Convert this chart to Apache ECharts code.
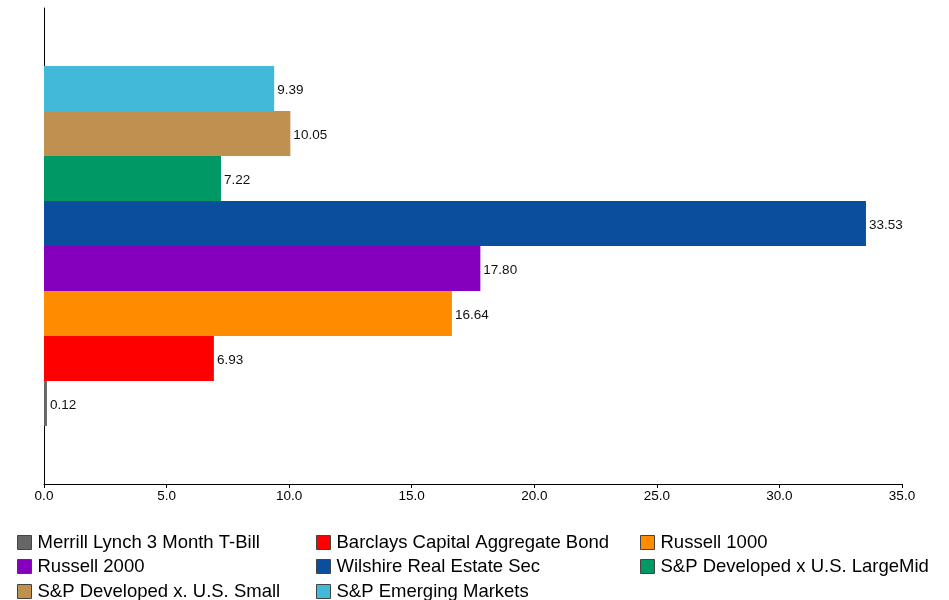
<!DOCTYPE html>
<html><head><meta charset="utf-8">
<script src="https://cdn.jsdelivr.net/npm/echarts@6/dist/echarts.min.js"></script>
<style>html,body{margin:0;padding:0;background:#fff}#c{width:949px;height:600px}</style>
</head><body><div id="c"></div>
<script>
const seriesNames = ["Merrill Lynch 3 Month T-Bill","Barclays Capital Aggregate Bond","Russell 1000","Russell 2000","Wilshire Real Estate Sec","S&P Developed x U.S. LargeMid","S&P Developed x. U.S. Small","S&P Emerging Markets"];
const seriesValues = [0.12, 6.93, 16.64, 17.80, 33.53, 7.22, 10.05, 9.39];
const seriesColors = ["#666666","#ff0000","#ff8c00","#8400bd","#0a4f9e","#009966","#c09050","#42b9d8"];
const categories = [""];
const xTicks = {min:0, max:35, interval:5};

const font = "Liberation Sans, Arial, sans-serif";
// ECharts stacks horizontal bar series top-to-bottom, so add them in reverse
const order = seriesNames.map((_,i)=>i).reverse();
const series = order.map(i=>({
  name:seriesNames[i], type:'bar', data:[seriesValues[i]], barWidth:45, barGap:'0%',
  itemStyle:{color:seriesColors[i]},
  label:{show:true, position:'right', distance:3, color:'#111', fontSize:13.5, fontFamily:font,
    offset:[0,2], formatter:p=>p.value.toFixed(2)}
}));
const colX = [17,316,640];
const rowY = [533,557,582];
const legends = seriesNames.map((n,i)=>({
  left:colX[i%3], top:rowY[Math.floor(i/3)], itemWidth:14, itemHeight:14, itemGap:0,
  icon:'rect', data:[n], selectedMode:false, padding:0,
  itemStyle:{borderColor:'#444', borderWidth:1},
  textStyle:{fontSize:18.5, fontFamily:font, color:'#000', padding:[0,0,0,1]}
}));
const chart = echarts.init(document.getElementById('c'));
chart.setOption({
  animation:false,
  grid:{left:44, right:47, top:8, bottom:116},
  legend:legends,
  xAxis:{type:'value', min:xTicks.min, max:xTicks.max, interval:xTicks.interval,
    splitLine:{show:false},
    axisLine:{show:true, lineStyle:{color:'#000', width:1}},
    axisTick:{show:true, length:4, lineStyle:{color:'#000'}},
    axisLabel:{color:'#000', fontSize:13.5, fontFamily:font, margin:5, formatter:v=>v.toFixed(1)}},
  yAxis:{type:'category', data:categories, axisLine:{show:true, lineStyle:{color:'#000'}},
    axisTick:{show:false}, axisLabel:{show:false}},
  series:series
});
</script></body></html>
